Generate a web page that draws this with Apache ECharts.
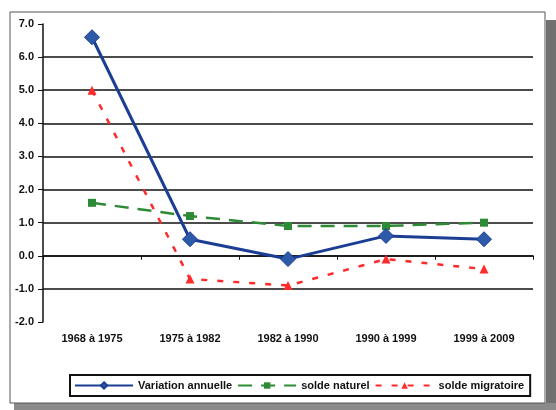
<!DOCTYPE html>
<html><head><meta charset="utf-8">
<script src="https://cdn.jsdelivr.net/npm/echarts@6/dist/echarts.min.js"></script>
<style>html,body{margin:0;padding:0;background:#fff}#c{width:556px;height:410px}</style>
</head><body><div id="c"></div>
<script>
const categories = ['1968 à 1975', '1975 à 1982', '1982 à 1990', '1990 à 1999', '1999 à 2009'];
const variationAnnuelle = [6.6, 0.5, -0.1, 0.6, 0.5];
const soldeNaturel = [1.6, 1.2, 0.9, 0.9, 1.0];
const soldeMigratoire = [5.0, -0.7, -0.9, -0.1, -0.4];
const seriesNames = ['Variation annuelle', 'solde naturel', 'solde migratoire'];

const font = 'Liberation Sans, Arial, sans-serif';
const chart = echarts.init(document.getElementById('c'));
chart.setOption({
  animation: false,
  backgroundColor: '#fff',
  graphic: [
    {type: 'rect', shape: {x: 546, y: 20, width: 10, height: 390}, style: {fill: '#707070'}, z: -10},
    {type: 'rect', shape: {x: 14, y: 403, width: 542, height: 7}, style: {fill: '#8a8a8a'}, z: -10},
    {type: 'rect', shape: {x: 10, y: 12, width: 535, height: 391}, style: {fill: '#fff', stroke: '#555', lineWidth: 1}, z: -9}
  ],
  grid: {left: 43, right: 23, top: 24, bottom: 88},
  legend: {
    left: 70, top: 375,
    padding: [5, 6, 5, 4],
    borderColor: '#111', borderWidth: 2,
    itemWidth: 58, itemHeight: 8, itemGap: 5,
    textStyle: {fontFamily: font, fontSize: 11, fontWeight: 'bold', color: '#111'},
    data: seriesNames
  },
  xAxis: {
    type: 'category', data: categories, boundaryGap: true,
    axisLine: {onZero: true, lineStyle: {color: '#111', width: 1.5}},
    axisTick: {show: true, length: 4, lineStyle: {color: '#111'}},
    axisLabel: {interval: 0, fontFamily: font, fontSize: 11, fontWeight: 'bold', color: '#111', margin: 11},
    position: 'bottom'
  },
  yAxis: {
    type: 'value', min: -2, max: 7, interval: 1,
    axisLine: {show: true, lineStyle: {color: '#111', width: 1.5}},
    axisTick: {show: true, length: 5, lineStyle: {color: '#111'}},
    axisLabel: {fontFamily: font, fontSize: 11, fontWeight: 'bold', color: '#111', margin: 9,
      formatter: v => v.toFixed(1)},
    splitLine: {show: true, showMinLine: false, showMaxLine: false, lineStyle: {color: '#111', width: 1.5}}
  },
  series: [
    {name: seriesNames[0], type: 'line', data: variationAnnuelle, z: 5,
      symbol: 'diamond', symbolSize: 15,
      lineStyle: {color: '#1b3d94', width: 3},
      itemStyle: {color: '#2d5aa8', borderColor: '#1b3d94', borderWidth: 1}},
    {name: seriesNames[1], type: 'line', data: soldeNaturel, z: 4,
      symbol: 'rect', symbolSize: 8,
      lineStyle: {color: '#2e8b35', width: 2.5, type: [14, 9]},
      itemStyle: {color: '#2e8b35'}},
    {name: seriesNames[2], type: 'line', data: soldeMigratoire, z: 3,
      symbol: 'triangle', symbolSize: 9,
      lineStyle: {color: '#ff2a2a', width: 2.5, type: [6, 10]},
      itemStyle: {color: '#ff2a2a'}}
  ]
});
</script></body></html>
